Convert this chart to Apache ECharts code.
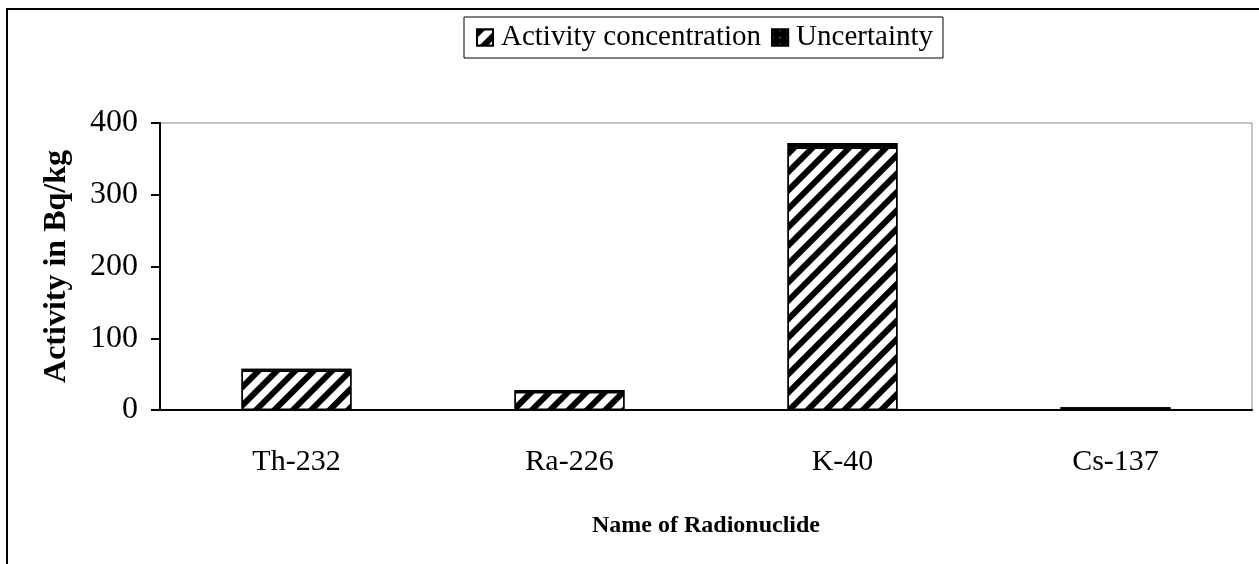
<!DOCTYPE html>
<html>
<head>
<meta charset="utf-8">
<title>Activity concentration</title>
<script src="https://cdn.jsdelivr.net/npm/echarts@6/dist/echarts.min.js"></script>
<style>
  html, body { margin: 0; padding: 0; background: #fff; }
  #chart { width: 1259px; height: 564px; }
</style>
</head>
<body>
<div id="chart"></div>
<script>
// data
var nuclides = ["Th-232", "Ra-226", "K-40", "Cs-137"];
var activity = [55, 25, 366, 1.5];
var uncertainty = [2.5, 3, 6, 2.5];
var yTicks = [0, 100, 200, 300, 400];

var serif = "Liberation Serif";

var chart = echarts.init(document.getElementById("chart"), null, { renderer: "canvas" });

var option = {
  backgroundColor: "#fff",
  animation: false,
  graphic: [{
    type: "rect",
    shape: { x: 7, y: 9, width: 1300, height: 600 },
    style: { fill: "none", stroke: "#000", lineWidth: 2 },
    z: 0
  }],
  legend: {
    top: 17,
    left: 464,
    icon: "rect",
    itemWidth: 16,
    itemHeight: 16,
    itemGap: 10,
    padding: [6, 10, 6, 12],
    borderColor: "#000",
    borderWidth: 1,
    backgroundColor: "#fff",
    textStyle: { fontFamily: serif, fontSize: 29, color: "#000", padding: [0, 0, 0, 3] },
    data: ["Activity concentration", "Uncertainty"]
  },
  grid: {
    left: 160,
    right: 7,
    top: 123,
    bottom: 154,
    show: true,
    borderColor: "#888",
    borderWidth: 1,
    backgroundColor: "#fff",
    containLabel: false
  },
  xAxis: {
    type: "category",
    data: nuclides,
    name: "Name of Radionuclide",
    nameLocation: "middle",
    nameGap: 104,
    nameTextStyle: { fontFamily: serif, fontSize: 24, fontWeight: "bold", color: "#000" },
    axisLine: { lineStyle: { color: "#000", width: 2 } },
    axisTick: { length: 10, lineStyle: { color: "#000", width: 2 } },
    axisLabel: { fontFamily: serif, fontSize: 30, color: "#000", margin: 37 }
  },
  yAxis: {
    type: "value",
    min: yTicks[0],
    max: yTicks[yTicks.length - 1],
    interval: 100,
    name: "Activity in Bq/kg",
    nameLocation: "middle",
    nameGap: 87,
    nameTextStyle: { fontFamily: serif, fontSize: 32, fontWeight: "bold", color: "#000" },
    axisLine: { show: true, lineStyle: { color: "#000", width: 2 } },
    axisTick: { show: true, length: 9, lineStyle: { color: "#000", width: 2 } },
    axisLabel: { fontFamily: serif, fontSize: 32, color: "#000", margin: 22 },
    splitLine: { show: false }
  },
  series: [{
    name: "Activity concentration",
    type: "bar",
    stack: "total",
    barWidth: 110,
    data: activity,
    itemStyle: {
      color: "#fff",
      borderColor: "#000",
      borderWidth: 1.5,
      decal: {
        symbol: "rect",
        color: "#000",
        backgroundColor: "#fff",
        dashArrayX: [1, 0],
        dashArrayY: [6, 7],
        rotation: -Math.PI / 4
      }
    }
  }, {
    name: "Uncertainty",
    type: "bar",
    stack: "total",
    barWidth: 110,
    data: uncertainty,
    itemStyle: {
      color: "#000",
      borderColor: "#000",
      borderWidth: 1.5,
      decal: {
        symbol: "rect",
        color: "#fff",
        backgroundColor: "#000",
        symbolSize: 0.5,
        dashArrayX: [[2, 5]],
        dashArrayY: [2, 5]
      }
    }
  }]
};

chart.setOption(option);
</script>
</body>
</html>
